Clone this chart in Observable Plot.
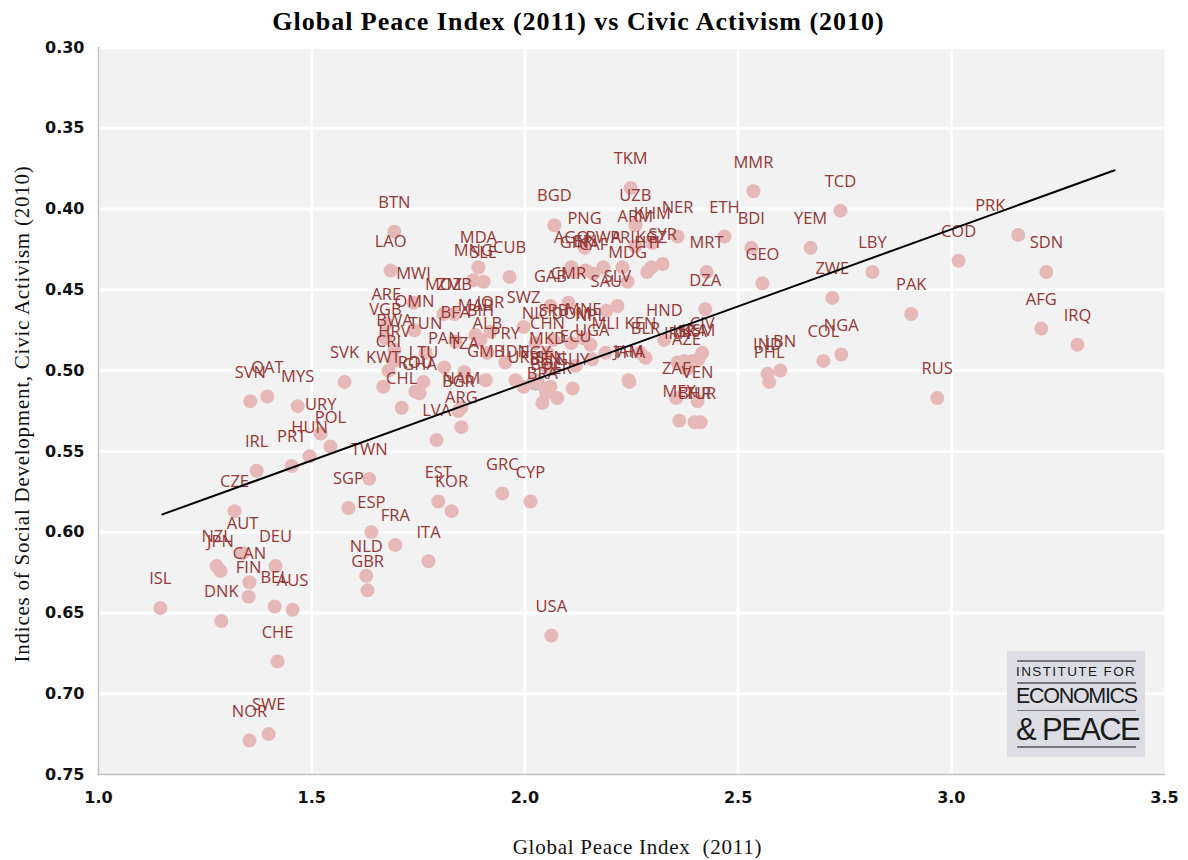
<!DOCTYPE html>
<html><head><meta charset="utf-8">
<script src="https://cdn.jsdelivr.net/npm/d3@7"></script>
<script src="https://cdn.jsdelivr.net/npm/@observablehq/plot@0.6"></script>
<style>
html,body{margin:0;padding:0;background:#fff;}
#wrap{position:relative;width:1188px;height:860px;overflow:hidden;}
#logo{position:absolute;left:1007px;top:651px;width:138px;height:106px;background:#dcdde4;color:#1a1a1a;font-family:"Liberation Sans",sans-serif;}
#logo .r{position:absolute;left:10px;width:119px;background:#77777d;}
#logo .t{position:absolute;left:9px;white-space:nowrap;}
</style></head>
<body><div id="wrap"><div id="chart"></div>
<div id="logo">
<div class="r" style="top:9px;height:2px"></div>
<div class="t" style="top:13px;font-size:13.5px;letter-spacing:1.4px">INSTITUTE FOR</div>
<div class="r" style="top:31px;height:2px"></div>
<div class="t" style="top:33px;font-size:21.5px;letter-spacing:-1.3px">ECONOMICS</div>
<div class="r" style="top:59px;height:1px"></div>
<div class="t" style="top:61px;font-size:31px;letter-spacing:-1.6px">&amp; PEACE</div>
<div class="r" style="top:95px;height:2px"></div>
</div></div>
<script>
const codes = ["TKM","MMR","TCD","PRK","SDN","COD","LBY","YEM","BDI","ETH","GEO","ZWE","PAK","AFG","IRQ","NGA","COL","LBN","IND","PHL","RUS","DZA","MRT","NER","SYR","HND","CIV","KEN","BLR","IRN","ISR","LKA","KSM","AZE","ZAF","VEN","MEX","BHR","TUR","ARM","KHM","UZB","BGD","PNG","AGO","RWA","PRI","GIN","CAF","ERI","KGZ","HTI","MDG","GAB","CMR","SLV","SAU","SRB","MNE","DOM","NPL","UGA","MLI","ECU","GUY","CHN","MKD","NIC","JAM","THA","BRA","PER","BEN","BOL","SEN","EGY","IDN","UKR","PRY","SWZ","JOR","MAR","BIH","BFA","ALB","GMB","PAN","TZA","NAM","BGR","ARG","LVA","CHL","LTU","KWT","ROU","GHA","CRI","HRV","TUN","BWA","VGB","ARE","OMN","MWI","LAO","BTN","MDA","MNG","SLE","CUB","MOZ","ZMB","SVK","QAT","SVN","MYS","URY","POL","HUN","PRT","IRL","CZE","TWN","SGP","ESP","FRA","NLD","GBR","ITA","EST","KOR","GRC","CYP","USA","ISL","NZL","JPN","AUT","CAN","FIN","DEU","BEL","AUS","DNK","CHE","SWE","NOR"];
const peaceIndex = [2.248,2.536,2.740,3.157,3.223,3.017,2.815,2.670,2.531,2.468,2.557,2.721,2.906,3.211,3.296,2.742,2.700,2.599,2.569,2.573,2.967,2.423,2.426,2.358,2.323,2.327,2.416,2.271,2.283,2.358,2.374,2.393,2.407,2.379,2.355,2.405,2.362,2.398,2.412,2.259,2.299,2.259,2.069,2.140,2.109,2.184,2.229,2.116,2.161,2.142,2.297,2.287,2.241,2.060,2.102,2.217,2.191,2.067,2.137,2.109,2.154,2.158,2.189,2.119,2.112,2.053,2.053,2.025,2.243,2.245,2.041,2.076,2.048,2.050,2.060,2.025,1.978,1.997,1.954,1.997,1.919,1.884,1.896,1.837,1.912,1.908,1.811,1.858,1.851,1.844,1.851,1.793,1.711,1.762,1.668,1.743,1.753,1.680,1.694,1.767,1.694,1.673,1.675,1.741,1.739,1.685,1.694,1.891,1.879,1.903,1.964,1.809,1.835,1.577,1.396,1.356,1.467,1.521,1.544,1.495,1.453,1.371,1.319,1.635,1.586,1.640,1.696,1.628,1.631,1.774,1.797,1.828,1.947,2.013,2.062,1.145,1.277,1.286,1.338,1.354,1.352,1.415,1.413,1.455,1.288,1.420,1.399,1.354];
const civicActivism = [.387,.389,.401,.416,.439,.432,.439,.424,.424,.417,.446,.455,.465,.474,.484,.490,.494,.500,.502,.507,.517,.462,.439,.417,.434,.481,.489,.489,.492,.495,.494,.494,.493,.499,.517,.519,.531,.532,.532,.423,.421,.410,.410,.424,.436,.436,.436,.439,.440,.438,.436,.439,.445,.460,.458,.460,.463,.481,.480,.483,.484,.493,.489,.497,.511,.489,.498,.483,.506,.507,.520,.517,.511,.514,.510,.507,.506,.510,.495,.473,.476,.478,.481,.482,.489,.506,.498,.501,.523,.525,.535,.543,.523,.507,.510,.513,.514,.500,.494,.489,.487,.480,.471,.475,.458,.438,.414,.436,.444,.445,.442,.465,.465,.507,.516,.519,.522,.539,.547,.553,.559,.562,.587,.567,.585,.600,.608,.627,.636,.618,.581,.587,.576,.581,.664,.647,.621,.624,.613,.631,.640,.621,.646,.648,.655,.680,.725,.729];
const trendX = [1.15, 3.383];
const trendY = [0.589, 0.376];
const xTicks = [1, 1.5, 2, 2.5, 3, 3.5];
const yTicks = [.30,.35,.40,.45,.50,.55,.60,.65,.70,.75];
const ringed = ["EGY"];
const shifted = ["PRK"];

const rows = codes.map((c, i) => ({code: c, x: peaceIndex[i], y: civicActivism[i]}));
const trend = trendX.map((x, i) => ({x, y: trendY[i]}));
const serif = "'Liberation Serif', serif";
const labelStyle = {text: "code", fill: "#953735", fontSize: 16.5, fontFamily: "'Open Sans', sans-serif"};

const plot = Plot.plot({
  width: 1188, height: 860,
  marginLeft: 98, marginRight: 24, marginTop: 47, marginBottom: 86,
  style: {background: "transparent", fontFamily: "'DejaVu Sans', sans-serif"},
  x: {domain: [1, 3.5], label: null},
  y: {domain: [.30, .75], reverse: true, label: null},
  marks: [
    Plot.frame({fill: "#f2f2f2", stroke: null}),
    Plot.ruleX(xTicks.slice(1, -1), {stroke: "#fff", strokeWidth: 3}),
    Plot.ruleY(yTicks.slice(0, -1), {stroke: "#fff", strokeWidth: 3}),
    Plot.frame({anchor: "left", stroke: "#c4c4c4", strokeWidth: 1.5}),
    Plot.frame({anchor: "bottom", stroke: "#c4c4c4", strokeWidth: 1.5}),
    Plot.dot(rows.filter(d => ringed.includes(d.code)), {x: "x", y: "y", r: 8, fill: "#e6b8b7", stroke: "#bdbdbd", strokeWidth: 1.5}),
    Plot.dot(rows, {x: "x", y: "y", r: 7, fill: "#e6b8b7", stroke: null}),
    Plot.text(rows.filter(d => !shifted.includes(d.code)), {x: "x", y: "y", dy: -29, ...labelStyle}),
    Plot.text(rows.filter(d => shifted.includes(d.code)), {x: "x", y: "y", dx: -28, dy: -29, ...labelStyle}),
    Plot.line(trend, {x: "x", y: "y", stroke: "#000", strokeWidth: 2}),
    Plot.axisX({ticks: xTicks, tickFormat: d3.format(".1f"), tickSize: 0, tickPadding: 17, label: null, fontSize: 16, fontWeight: "bold", fill: "#111"}),
    Plot.axisY({ticks: yTicks, tickFormat: d3.format(".2f"), tickSize: 0, tickPadding: 14, label: null, fontSize: 16, fontWeight: "bold", fill: "#111"}),
    Plot.text(["Global Peace Index (2011) vs Civic Activism (2010)"], {frameAnchor: "top", dx: -53, dy: -36, fontFamily: serif, fontSize: 26, fontWeight: "bold", fill: "#000", className: "ttl-main"}),
    Plot.text(["Global Peace Index  (2011)"], {frameAnchor: "bottom", dx: 6, dy: 79, fontFamily: serif, fontSize: 21, fill: "#111", className: "ttl-side"}),
    Plot.text(["Indices of Social Development, Civic Activism (2010)"], {frameAnchor: "left", textAnchor: "middle", rotate: -90, dx: -76, dy: 3, fontFamily: serif, fontSize: 21, fill: "#111", className: "ttl-side"})
  ]
});
d3.select(plot).selectAll(".ttl-main text").style("letter-spacing", "1px");
d3.select(plot).selectAll(".ttl-side text").style("letter-spacing", ".75px");
document.getElementById("chart").appendChild(plot);
</script></body></html>
